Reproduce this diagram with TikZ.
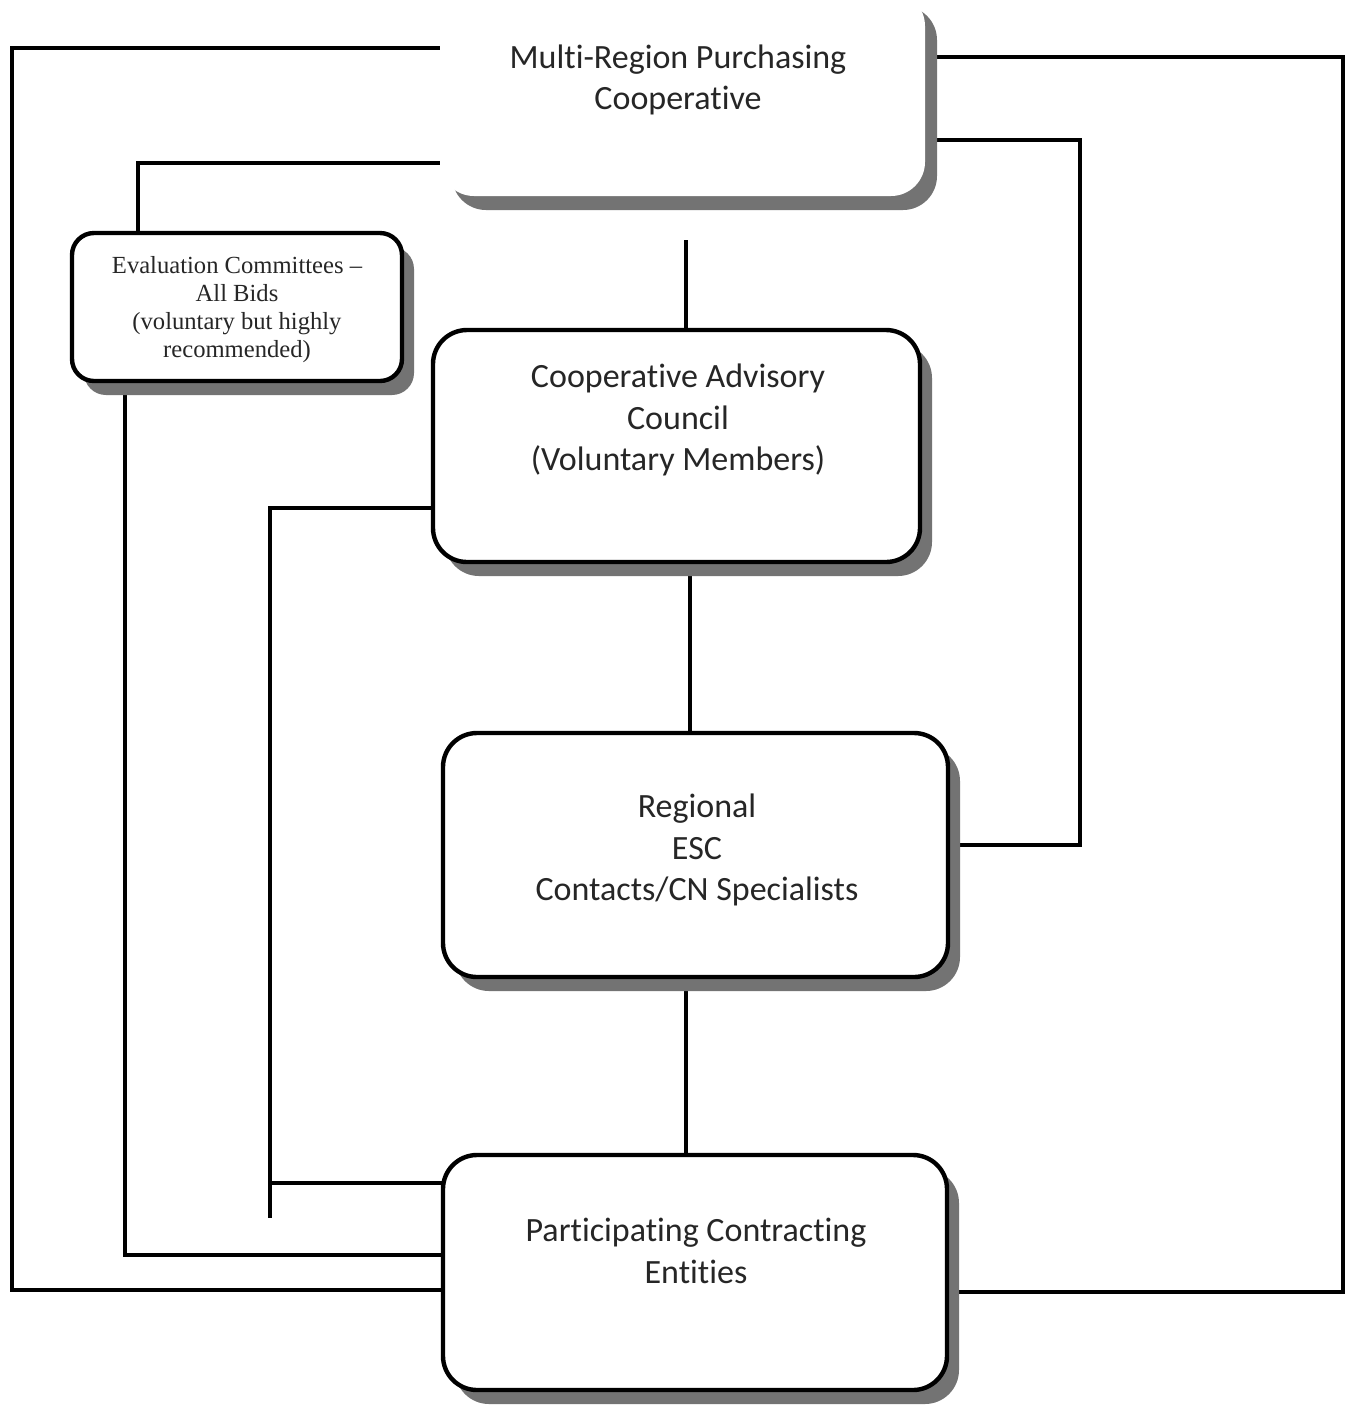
\documentclass[tikz,border=0pt]{standalone}
\usepackage{fontspec}
\setmainfont{Carlito}[Ligatures={CommonOff}]
\newfontfamily\timesf{Liberation Serif}
\usetikzlibrary{shadows}
\pgfdeclarelayer{bg}
\pgfsetlayers{bg,main}
\begin{document}
\begin{tikzpicture}[x=0.5pt,y=-0.5pt,
  box/.style={draw=black, line width=2.2pt, rounded corners=17pt, fill=white, inner sep=0pt, outer sep=0pt,
    drop shadow={shadow xshift=6pt, shadow yshift=-7pt, fill=black!55, opacity=1}},
  topbox/.style={box, draw=none},
  evbox/.style={box, rounded corners=11pt},
  conn/.style={line width=2pt},
  lbl/.style={align=center, font=\fontsize{17}{20.8}\selectfont, text=black!85},
  evl/.style={align=center, font=\timesf\fontsize{12.3}{14}\selectfont, text=black!85}]
\useasboundingbox (0,0) rectangle (1347,1405);
\begin{pgfonlayer}{bg}
\fill[white] (0,0) rectangle (1347,1405);
\end{pgfonlayer}

% boxes
\node[topbox, minimum width=242.5pt, minimum height=102pt] (top) at (682.5,94) {};
\node[evbox, minimum width=165pt, minimum height=74pt] (eval) at (237,307) {};
\node[box, minimum width=243.5pt, minimum height=116pt] (cac) at (676.5,446) {};
\node[box, minimum width=252.5pt, minimum height=122pt] (reg) at (695.5,855) {};
\node[box, minimum width=252pt, minimum height=117.5pt] (pce) at (695,1272.5) {};

% texts
\node[lbl] (tTop) at (678,80) {Multi-Region Purchasing\\Cooperative};
\node[lbl] (tCac) at (678,420) {Cooperative Advisory\\Council\\(Voluntary Members)};
\node[lbl] (tReg) at (697,850) {Regional\\ESC\\Contacts/CN Specialists};
\node[lbl] (tPce) at (696,1251) {Participating Contracting\\Entities};
\node[evl] (tEv) at (237,310) {Evaluation Committees –\\All Bids\\(voluntary but highly\\recommended)};

\coordinate (stub) at (686,240);
\coordinate (cacend) at (270,1218);

\begin{pgfonlayer}{bg}
\draw[conn] (top.west |- 0,48) -| (12,1290) -- (pce.west |- 0,1290);
\draw[conn] (top.west |- 0,163) -| (eval.north -| 138,0);
\draw[conn] (eval.south -| 125,0) |- (pce.west |- 0,1255);
\draw[conn] (cac.west |- 0,508) -| (cacend);
\draw[conn] (270,1183) -- (pce.west |- 0,1183);
\draw[conn] (stub) -- (cac.north -| stub);
\draw[conn] (cac.south -| 690,0) -- (reg.north -| 690,0);
\draw[conn] (reg.south -| 686,0) -- (pce.north -| 686,0);
\draw[conn] (top.east |- 0,57) -| (1343,1292) -- (pce.east |- 0,1292);
\draw[conn] (top.east |- 0,140) -| (1080,845) -- (reg.east |- 0,845);
\end{pgfonlayer}
\end{tikzpicture}
\end{document}
